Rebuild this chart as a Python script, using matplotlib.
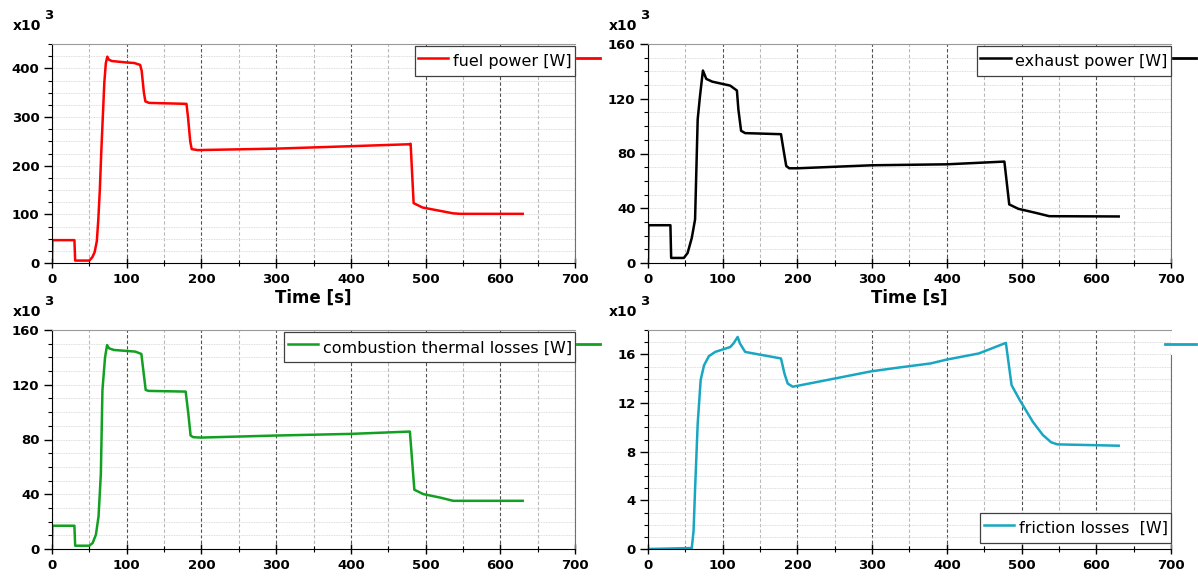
import matplotlib
matplotlib.use("Agg")
import matplotlib.pyplot as plt
from matplotlib.ticker import MultipleLocator

W, H = 1198, 576

# --- data (values in x10^3 W, time in s) ---
fuel_t = [0, 0.5, 30, 31, 50, 54, 57, 60, 62, 64, 66, 68, 70, 72, 74, 76, 80, 100, 110,
          118, 120, 123, 125, 130, 180, 182, 185, 187, 195, 300, 400, 478, 480, 484, 496,
          520, 537, 547, 630]
fuel_v = [5, 47, 47, 5, 5, 12, 22, 45, 90, 150, 230, 300, 370, 410, 424, 418, 415, 412, 411,
          407, 395, 350, 332, 329, 327, 300, 250, 234, 232, 235, 240, 244, 245, 123, 114,
          107, 102, 101, 101]

exh_t = [0, 0.5, 30, 31, 48, 53, 58.6, 63, 66.5, 69.6, 73.5, 78, 86, 100, 110, 119, 121,
         124.6, 130, 178, 180.5, 185, 189, 200, 300, 400, 477, 483.5, 495.6, 520, 537, 630]
exh_v = [3.7, 27.6, 27.6, 3.7, 3.7, 7.3, 18.3, 31.8, 105, 122, 140.6, 134.5, 132.5, 130.8,
         129.6, 126, 112, 96.6, 94.9, 94.1, 85.6, 70.9, 69.2, 69.2, 71.4, 72.1, 74.1, 42.8,
         39.6, 36.5, 34.2, 34]

comb_t = [0, 0.5, 30, 31, 50, 54.4, 58.8, 62.3, 65.4, 67.5, 71, 73.7, 76.4, 83, 100, 111.6,
          119.6, 122.7, 125.4, 129.4, 178.9, 182.4, 185.5, 189, 199, 300, 400, 479, 485,
          497, 520, 537, 630]
comb_v = [2.4, 17, 17, 2.4, 2.4, 4.4, 10.5, 23.8, 55, 116, 140, 149, 146.6, 145.4, 144.7,
          144.2, 142.5, 128.4, 116.2, 115.5, 115, 99.2, 82.9, 81.7, 81.4, 82.9, 84.1, 85.8,
          43.3, 40.1, 37.5, 35.2, 35.2]

fric_t = [0, 58.6, 61, 63, 66.5, 70.5, 75, 81.5, 90, 100, 110, 114.5, 120, 123, 130, 147.5,
          178, 182.7, 187, 193.7, 199, 249, 298.5, 334, 378, 400, 442.6, 479, 486.6, 497.6,
          515, 528.5, 539.6, 548, 630]
fric_v = [0, 0.08, 1.5, 4.9, 10.3, 13.9, 15.1, 15.85, 16.2, 16.4, 16.6, 16.9, 17.43, 16.9,
          16.2, 16.0, 15.66, 14.4, 13.6, 13.34, 13.4, 14.0, 14.6, 14.9, 15.25, 15.57, 16.07,
          16.94, 13.47, 12.24, 10.46, 9.37, 8.77, 8.6, 8.49]

panels = [
    # (t, v, label, color, ylim top, major, minor, pixel box, legend loc, time label)
    (fuel_t, fuel_v, "fuel power [W]", "#ff0000", 450, 100, 25, (52, 44, 575, 263), "upper right", True),
    (exh_t, exh_v, "exhaust power [W]", "#000000", 160, 40, 10, (648, 44, 1171, 263), "upper right", True),
    (comb_t, comb_v, "combustion thermal losses [W]", "#12a021", 160, 40, 10, (52, 330, 575, 549), "upper right", False),
    (fric_t, fric_v, "friction losses  [W]", "#19a6c2", 18, 4, 1, (648, 330, 1171, 549), "lower right", False),
]

fig = plt.figure(figsize=(W / 100, H / 100), dpi=100)
fig.patch.set_facecolor("white")

for t, v, label, color, ytop, major, minor, box, loc, tlabel in panels:
    x0, y0, x1, y1 = box
    ax = fig.add_axes([x0 / W, 1 - y1 / H, (x1 - x0) / W, (y1 - y0) / H])
    ax.plot(t, v, color=color, lw=1.8, label=label, solid_joinstyle="round")
    ax.set_xlim(0, 700)
    ax.set_ylim(0, ytop)

    ax.xaxis.set_major_locator(MultipleLocator(100))
    ax.xaxis.set_minor_locator(MultipleLocator(50))
    ax.yaxis.set_major_locator(MultipleLocator(major))
    ax.yaxis.set_minor_locator(MultipleLocator(minor))

    ax.grid(which="major", axis="x", color="#505050", ls=(0, (3, 2)), lw=0.8)
    ax.grid(which="minor", axis="x", color="#b8b8b8", ls=(0, (3, 2)), lw=0.8)
    ax.grid(which="both", axis="y", color="#d2d2d2", ls=(0, (1, 1)), lw=0.6)
    ax.set_axisbelow(True)

    ax.tick_params(axis="x", which="major", direction="inout", length=7, width=1, pad=4)
    ax.tick_params(axis="x", which="minor", direction="inout", length=5, width=0.8)
    ax.tick_params(axis="y", which="major", direction="out", length=6, width=1, pad=3)
    ax.tick_params(axis="y", which="minor", direction="out", length=3, width=0.8)
    for lab in ax.get_xticklabels() + ax.get_yticklabels():
        lab.set_fontweight("bold")
        lab.set_fontsize(9.5)

    ax.spines["left"].set_color("black")
    ax.spines["bottom"].set_color("black")
    ax.spines["top"].set_color("#999999")
    ax.spines["right"].set_color("#707070")
    ax.spines["right"].set_bounds(0, ytop * 0.885)

    if loc == "upper right":
        anchor = (1.0, 0.99)
    else:
        anchor = (1.0, 0.027)
    leg = ax.legend(loc=loc, bbox_to_anchor=anchor, borderaxespad=0, fancybox=False,
                    framealpha=1, edgecolor="#404040", fontsize=11.5, handlelength=1.9,
                    handleheight=1.9, handletextpad=0.3, borderpad=0.2)
    leg.get_frame().set_linewidth(0.9)

    # stray legend stub drawn to the right of the frame
    xs = 0.988 if loc == "lower right" else 1.004
    ax.plot([xs, 1.047], [0.938, 0.938], transform=ax.transAxes, clip_on=False,
            color=color, lw=2)

    if tlabel:
        ax.set_xlabel("Time [s]", fontsize=12, fontweight="bold", labelpad=2)

    # "x10^3" multiplier
    fig.text((x0 - 39) / W, 1 - (y0 - 14) / H, "x10", fontsize=10, fontweight="bold",
             va="baseline", ha="left")
    fig.text((x0 - 8) / W, 1 - (y0 - 25) / H, "3", fontsize=9.5, fontweight="bold",
             va="baseline", ha="left")

fig.savefig("out.png", dpi=100)
